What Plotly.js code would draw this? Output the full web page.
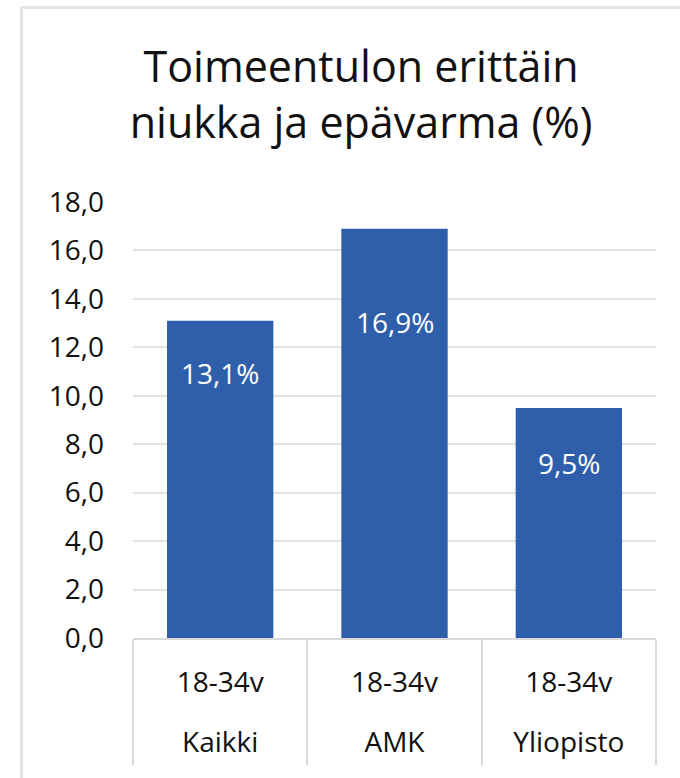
<!DOCTYPE html>
<html>
<head>
<meta charset="utf-8">
<script src="https://cdn.plot.ly/plotly-3.0.1.min.js"></script>
<style>
  html, body { margin: 0; padding: 0; background: #ffffff; overflow: hidden; }
  #frame { position: absolute; left: 20px; top: 6px; width: 720px; height: 820px;
           border-left: 3px solid #e4e4e4; border-top: 3px solid #e4e4e4; box-sizing: border-box; }
  #chart { position: absolute; left: 0; top: 0; width: 680px; height: 778px; }
</style>
</head>
<body>
<div id="frame"></div>
<div id="chart"></div>
<script>
// ---- data ----
const groups = ["Kaikki", "AMK", "Yliopisto"];
const ages = ["18-34v", "18-34v", "18-34v"];
const values = [13.1, 16.9, 9.5];
const valueLabels = ["13,1%", "16,9%", "9,5%"];
const yTickVals = [0, 2, 4, 6, 8, 10, 12, 14, 16, 18];

// ---- styling ----
const FONT = "Open Sans, Noto Sans, sans-serif";
const labelShift = [-52, -93, -55];  // pixel offsets of the data labels below bar tops
const span = t => '<span style="font-size:28px">' + t + '</span>';
const xTickText = groups.map((g, i) => span(ages[i]) + "<br>" + span(g));

const trace = {
  type: "bar",
  x: groups,
  y: values,
  marker: { color: "#2F5FAB", line: { width: 0 } },
  hoverinfo: "skip"
};

const annotations = values.map((v, i) => ({
  x: groups[i],
  xref: "x", yref: "y",
  y: v,
  yshift: labelShift[i],
  text: valueLabels[i],
  showarrow: false,
  font: { family: FONT, size: 28, color: "#ffffff" }
}));

const layout = {
  width: 680, height: 778,
  paper_bgcolor: "rgba(0,0,0,0)",
  plot_bgcolor: "rgba(0,0,0,0)",
  separators: ", ",
  margin: { l: 133, r: 24, t: 202, b: 140 },
  bargap: 0.39,
  showlegend: false,
  title: {
    text: "Toimeentulon erittäin<br>niukka ja epävarma (%)",
    font: { family: FONT, size: 43, color: "#111111" },
    xref: "container", yref: "container",
    x: 0.531, xanchor: "center",
    y: 1 - 82 / 778, yanchor: "top"
  },
  xaxis: {
    type: "category",
    tickvals: groups,
    ticktext: xTickText,
    showgrid: false,
    showline: true, linecolor: "#d9d9d9", linewidth: 2,
    ticks: "outside", tickson: "boundaries",
    ticklen: 125, tickwidth: 2, tickcolor: "#d9d9d9",
    ticklabelstandoff: -3,
    tickangle: 0,
    tickfont: { family: FONT, size: 46, color: "#111111" },
    fixedrange: true
  },
  yaxis: {
    range: [0, 18],
    tickvals: yTickVals,
    tickformat: ".1f",
    showgrid: true, gridcolor: "#e2e2e2", gridwidth: 2,
    zeroline: false,
    showline: false,
    ticks: "",
    ticklabelstandoff: 28,
    tickfont: { family: FONT, size: 28, color: "#111111" },
    fixedrange: true
  },
  annotations: annotations
};

Plotly.newPlot("chart", [trace], layout, { displayModeBar: false, staticPlot: true });
</script>
</body>
</html>
